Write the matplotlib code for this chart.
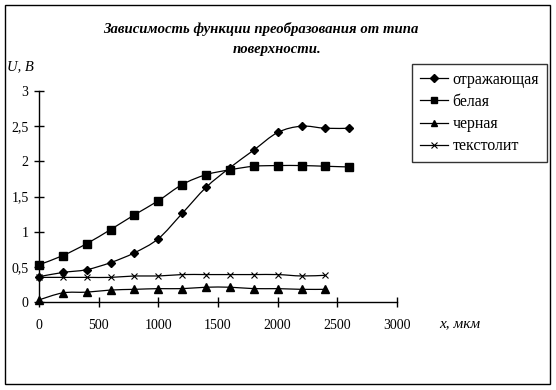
import numpy as np
import matplotlib
matplotlib.use("Agg")
import matplotlib.pyplot as plt
from matplotlib.path import Path
from matplotlib.patches import PathPatch, Rectangle
from matplotlib.lines import Line2D

plt.rcParams['font.family'] = ['Liberation Serif', 'DejaVu Serif']

# данные
x_full = [0, 200, 400, 600, 800, 1000, 1200, 1400, 1600, 1800, 2000, 2200, 2400, 2600]
x_short = [0, 200, 400, 600, 800, 1000, 1200, 1400, 1600, 1800, 2000, 2200, 2400]
otrazh = [0.36, 0.42, 0.46, 0.56, 0.70, 0.90, 1.26, 1.63, 1.91, 2.16, 2.41, 2.50, 2.47, 2.47]
belaya = [0.53, 0.66, 0.83, 1.03, 1.24, 1.44, 1.67, 1.81, 1.88, 1.93, 1.94, 1.94, 1.93, 1.92]
chernaya = [0.03, 0.13, 0.14, 0.17, 0.18, 0.19, 0.19, 0.21, 0.21, 0.19, 0.19, 0.18, 0.18]
tekstolit = [0.35, 0.35, 0.35, 0.35, 0.37, 0.37, 0.39, 0.39, 0.39, 0.39, 0.39, 0.37, 0.38]

labels = ['отражающая', 'белая', 'черная', 'текстолит']
xticks = [0, 500, 1000, 1500, 2000, 2500, 3000]
yticks = [0, 0.5, 1, 1.5, 2, 2.5, 3]
ytick_labels = ['0', '0,5', '1', '1,5', '2', '2,5', '3']


def smooth_path(xs, ys):
    # сглаженная линия как в Excel (кривые Безье через точки)
    p = np.column_stack([xs, ys]).astype(float)
    n = len(p)
    verts = [p[0]]
    codes = [Path.MOVETO]
    for i in range(n - 1):
        p0 = p[i - 1] if i > 0 else p[i]
        p3 = p[i + 2] if i + 2 < n else p[i + 1]
        c1 = p[i] + (p[i + 1] - p0) / 6.0
        c2 = p[i + 1] - (p3 - p[i]) / 6.0
        verts += [c1, c2, p[i + 1]]
        codes += [Path.CURVE4] * 3
    return Path(verts, codes)


W, H = 556, 390
fig = plt.figure(figsize=(W / 100, H / 100), dpi=100)
ax = fig.add_axes([39 / W, 1 - 302 / H, (397 - 39) / W, (302 - 91) / H])

series = [(x_full, otrazh, 'D', 4.5), (x_full, belaya, 's', 5.5),
          (x_short, chernaya, '^', 5.5), (x_short, tekstolit, 'x', 5)]
handles = []
for (xs, ys, mk, ms), lab in zip(series, labels):
    ax.add_patch(PathPatch(smooth_path(xs, ys), fill=False, lw=0.9, ec='black', clip_on=False))
    if mk == 'x':
        ax.plot(xs, ys, ls='none', marker=mk, ms=ms, mew=0.8, color='black', clip_on=False)
    else:
        ax.plot(xs, ys, ls='none', marker=mk, ms=ms, color='black', clip_on=False)
    handles.append(Line2D([], [], color='black', lw=0.9, marker=mk,
                          ms=ms - 0.5, mew=0.8 if mk == 'x' else 1))

ax.set_xlim(0, 3000)
ax.set_ylim(0, 3)
ax.set_xticks(xticks)
ax.set_yticks(yticks)
ax.set_yticklabels(ytick_labels)
for s in ['top', 'right']:
    ax.spines[s].set_visible(False)
for s in ['left', 'bottom']:
    ax.spines[s].set_linewidth(1)
ax.tick_params(direction='inout', length=7, width=1, labelsize=10)
ax.tick_params(axis='x', pad=9)
ax.tick_params(axis='y', pad=4)
ax.patch.set_alpha(0)

fig.text(261 / W, 1 - 29 / H, 'Зависимость функции преобразования от типа',
         ha='center', va='center', fontsize=10.6, fontweight='bold', style='italic')
fig.text(277 / W, 1 - 50 / H, 'поверхности.',
         ha='center', va='center', fontsize=10.6, fontweight='bold', style='italic')
fig.text(7 / W, 1 - 67 / H, 'U, B', ha='left', va='center', fontsize=10.5, style='italic')
fig.text(439 / W, 1 - 324 / H, 'x, мкм', ha='left', va='center', fontsize=11, style='italic')

leg = fig.legend(handles, labels, loc='upper left', bbox_to_anchor=(412 / W, 1 - 64 / H),
                 fontsize=11.5, frameon=True, fancybox=False, handlelength=1.75,
                 handletextpad=0.3, labelspacing=0.38, borderpad=0.5, borderaxespad=0)
leg.get_frame().set_edgecolor('black')
leg.get_frame().set_linewidth(1)

fig.patches.append(Rectangle((5 / W, 6 / H), 545 / W, 379 / H, transform=fig.transFigure,
                             fill=False, ec='black', lw=1))

fig.savefig('out.png', dpi=100)
